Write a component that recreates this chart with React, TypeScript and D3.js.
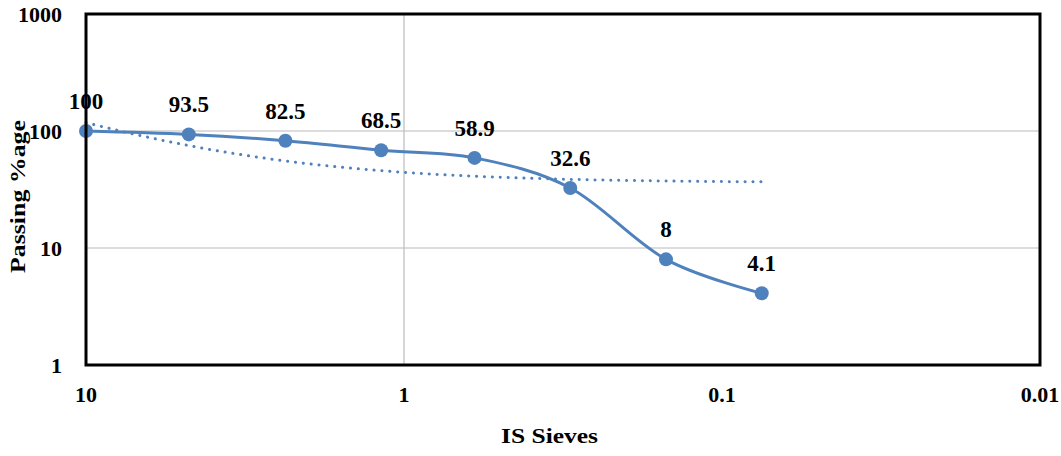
import React, { useEffect, useRef } from 'react';
import * as d3 from 'd3';

// sieve sizes (mm) and passing percentages
const sieves = [10, 4.75, 2.36, 1.18, 0.6, 0.3, 0.15, 0.075];
const passing = [100, 93.5, 82.5, 68.5, 58.9, 32.6, 8, 4.1];
const xTicks = [10, 1, 0.1, 0.01];
const yTicks = [1, 10, 100, 1000];
const xGrid = [1];
const yGrid = [10, 100];

const BLUE = '#4f81bd';
const FONT = '"Liberation Serif", "Times New Roman", serif';

const App = () => {
  const svgRef = useRef(null);

  useEffect(() => {
    const svg = d3.select(svgRef.current);
    svg.selectAll('*').remove();
    const width = 1061;
    const height = 456;
    const margin = { top: 14, right: 21, bottom: 91, left: 86 };
    const innerWidth = width - margin.left - margin.right;
    const innerHeight = height - margin.top - margin.bottom;

    const x = d3.scaleLog().domain([10, 0.01]).range([0, innerWidth]);
    const y = d3.scaleLog().domain([1, 1000]).range([innerHeight, 0]);

    const g = svg.append('g').attr('transform', `translate(${margin.left},${margin.top})`);

    // grid lines
    g.selectAll('.hgrid')
      .data(yGrid)
      .enter()
      .append('line')
      .attr('x1', 0)
      .attr('x2', innerWidth)
      .attr('y1', d => y(d))
      .attr('y2', d => y(d))
      .attr('stroke', '#d0d0d0')
      .attr('stroke-width', 1.3);

    g.selectAll('.vgrid')
      .data(xGrid)
      .enter()
      .append('line')
      .attr('x1', d => x(d))
      .attr('x2', d => x(d))
      .attr('y1', 0)
      .attr('y2', innerHeight)
      .attr('stroke', '#c0c0c0')
      .attr('stroke-width', 1.3);

    // linear trendline (least squares on the data), drawn on log axes
    const mx = d3.mean(sieves);
    const my = d3.mean(passing);
    const sxy = d3.sum(sieves, (s, i) => (s - mx) * (passing[i] - my));
    const sxx = d3.sum(sieves, s => (s - mx) * (s - mx));
    const slope = sxy / sxx;
    const intercept = my - slope * mx;
    const lo = Math.log10(d3.min(sieves));
    const hi = Math.log10(d3.max(sieves));
    const trend = d3.range(0, 101).map(k => {
      const xv = Math.pow(10, hi - (hi - lo) * k / 100);
      return [xv, slope * xv + intercept];
    });
    g.append('path')
      .datum(trend)
      .attr('fill', 'none')
      .attr('stroke', BLUE)
      .attr('stroke-width', 3)
      .attr('stroke-linecap', 'round')
      .attr('stroke-dasharray', '0.1 7.8')
      .attr('d', d3.line().x(d => x(d[0])).y(d => y(d[1])));

    // smoothed series line
    const pts = sieves.map((s, i) => [s, passing[i]]);
    g.append('path')
      .datum(pts)
      .attr('fill', 'none')
      .attr('stroke', BLUE)
      .attr('stroke-width', 3)
      .attr('d', d3.line().x(d => x(d[0])).y(d => y(d[1])).curve(d3.curveCatmullRom.alpha(0)));

    g.selectAll('.dot')
      .data(pts)
      .enter()
      .append('circle')
      .attr('cx', d => x(d[0]))
      .attr('cy', d => y(d[1]))
      .attr('r', 7)
      .attr('fill', BLUE);

    // data labels
    g.selectAll('.lbl')
      .data(pts)
      .enter()
      .append('text')
      .attr('x', d => x(d[0]))
      .attr('y', d => y(d[1]) - 22)
      .attr('text-anchor', 'middle')
      .attr('font-family', FONT)
      .attr('font-weight', 'bold')
      .attr('font-size', 23)
      .attr('fill', '#000')
      .text(d => String(d[1]));

    // plot frame
    g.append('rect')
      .attr('x', 0)
      .attr('y', 0)
      .attr('width', innerWidth)
      .attr('height', innerHeight)
      .attr('fill', 'none')
      .attr('stroke', '#000')
      .attr('stroke-width', 3);

    // tick labels
    g.selectAll('.ytick')
      .data(yTicks)
      .enter()
      .append('text')
      .attr('x', -24)
      .attr('y', d => y(d))
      .attr('dy', '0.35em')
      .attr('text-anchor', 'end')
      .attr('font-family', FONT)
      .attr('font-weight', 'bold')
      .attr('font-size', 22)
      .text(d => String(d));

    g.selectAll('.xtick')
      .data(xTicks)
      .enter()
      .append('text')
      .attr('x', d => x(d))
      .attr('y', innerHeight + 29)
      .attr('dy', '0.35em')
      .attr('text-anchor', 'middle')
      .attr('font-family', FONT)
      .attr('font-weight', 'bold')
      .attr('font-size', 22)
      .text(d => String(d));

    // axis titles
    svg.append('text')
      .attr('x', 549.5)
      .attr('y', 443)
      .attr('text-anchor', 'middle')
      .attr('font-family', FONT)
      .attr('font-weight', 'bold')
      .attr('font-size', 22)
      .attr('textLength', 97)
      .attr('lengthAdjust', 'spacingAndGlyphs')
      .text('IS Sieves');

    svg.append('text')
      .attr('transform', 'translate(25,196.5) rotate(-90)')
      .attr('text-anchor', 'middle')
      .attr('font-family', FONT)
      .attr('font-weight', 'bold')
      .attr('font-size', 22)
      .attr('textLength', 153)
      .attr('lengthAdjust', 'spacingAndGlyphs')
      .text('Passing %age');
  }, []);

  return (
    <svg
      ref={svgRef}
      width={1061}
      height={456}
      style={{ position: 'absolute', left: 0, top: 0, background: '#fff' }}
    ></svg>
  );
};

export default App;
